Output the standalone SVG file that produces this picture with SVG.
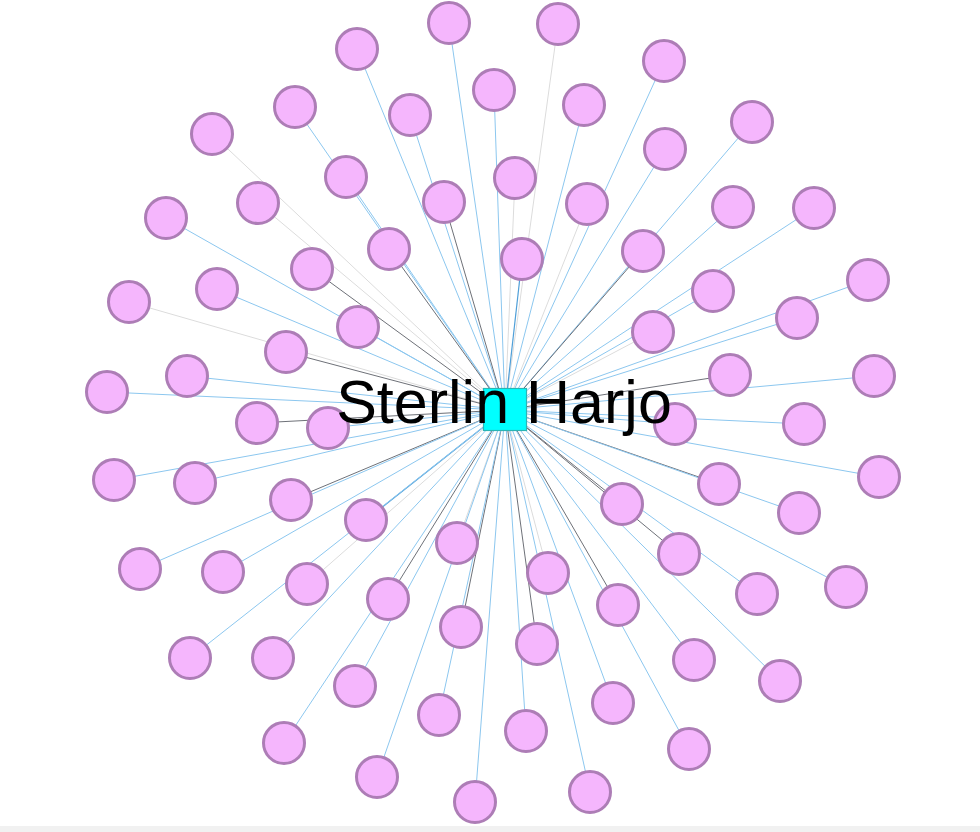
<svg xmlns="http://www.w3.org/2000/svg" width="980" height="832" viewBox="0 0 980 832">
<style>
.b{stroke:#8cc7ef;stroke-width:1}
.bb{stroke:#4f9fd8;stroke-width:1.2}
.d{stroke:#6e7178;stroke-width:1}
.g{stroke:#dcdcdc;stroke-width:1}
.n circle{fill:#f5b6fd;stroke:#ad7db6;stroke-width:3}
.lbl{font-family:"Liberation Sans",Arial,sans-serif;font-size:61px;fill:#000}
</style>
<rect width="980" height="832" fill="#ffffff"/>
<rect x="0" y="826" width="980" height="6" fill="#f1f1f1"/>
<g id="edges">
<line class="b" x1="505" y1="410" x2="449" y2="23"/>
<line class="g" x1="505" y1="410" x2="558" y2="24"/>
<line class="b" x1="505" y1="410" x2="357" y2="49"/>
<line class="b" x1="505" y1="410" x2="664" y2="61"/>
<line class="b" x1="505" y1="410" x2="494" y2="90"/>
<line class="b" x1="505" y1="410" x2="295" y2="107"/>
<line class="b" x1="505" y1="410" x2="410" y2="115"/>
<line class="b" x1="505" y1="410" x2="584" y2="105"/>
<line class="b" x1="505" y1="410" x2="752" y2="122"/>
<line class="g" x1="505" y1="410" x2="212" y2="134"/>
<line class="b" x1="505" y1="410" x2="665" y2="149"/>
<line class="b" x1="505" y1="410" x2="346" y2="177"/>
<line class="g" x1="505" y1="410" x2="515" y2="178"/>
<line class="g" x1="505" y1="410" x2="258" y2="203"/>
<line class="d" x1="505" y1="410" x2="444" y2="202"/>
<line class="g" x1="505" y1="410" x2="587" y2="204"/>
<line class="b" x1="505" y1="410" x2="733" y2="207"/>
<line class="b" x1="505" y1="410" x2="814" y2="208"/>
<line class="b" x1="505" y1="410" x2="166" y2="218"/>
<line class="d" x1="505" y1="410" x2="389" y2="249"/>
<line class="d" x1="505" y1="410" x2="643" y2="251"/>
<line class="bb" x1="505" y1="410" x2="522" y2="259"/>
<line class="d" x1="505" y1="410" x2="312" y2="269"/>
<line class="b" x1="505" y1="410" x2="868" y2="280"/>
<line class="b" x1="505" y1="410" x2="217" y2="289"/>
<line class="b" x1="505" y1="410" x2="713" y2="291"/>
<line class="g" x1="505" y1="410" x2="129" y2="302"/>
<line class="b" x1="505" y1="410" x2="797" y2="318"/>
<line class="b" x1="505" y1="410" x2="358" y2="327"/>
<line class="g" x1="505" y1="410" x2="653" y2="332"/>
<line class="d" x1="505" y1="410" x2="286" y2="352"/>
<line class="b" x1="505" y1="410" x2="187" y2="376"/>
<line class="d" x1="505" y1="410" x2="730" y2="375"/>
<line class="b" x1="505" y1="410" x2="874" y2="376"/>
<line class="b" x1="505" y1="410" x2="107" y2="392"/>
<line class="d" x1="505" y1="410" x2="257" y2="423"/>
<line class="b" x1="505" y1="410" x2="328" y2="428"/>
<line class="b" x1="505" y1="410" x2="675" y2="424"/>
<line class="b" x1="505" y1="410" x2="804" y2="424"/>
<line class="b" x1="505" y1="410" x2="114" y2="480"/>
<line class="b" x1="505" y1="410" x2="195" y2="483"/>
<line class="d" x1="505" y1="410" x2="719" y2="484"/>
<line class="b" x1="505" y1="410" x2="879" y2="477"/>
<line class="d" x1="505" y1="410" x2="291" y2="500"/>
<line class="bb" x1="505" y1="410" x2="366" y2="520"/>
<line class="d" x1="505" y1="410" x2="622" y2="504"/>
<line class="b" x1="505" y1="410" x2="799" y2="513"/>
<line class="g" x1="505" y1="410" x2="457" y2="543"/>
<line class="d" x1="505" y1="410" x2="679" y2="554"/>
<line class="b" x1="505" y1="410" x2="140" y2="569"/>
<line class="b" x1="505" y1="410" x2="223" y2="572"/>
<line class="g" x1="505" y1="410" x2="548" y2="573"/>
<line class="g" x1="505" y1="410" x2="307" y2="584"/>
<line class="b" x1="505" y1="410" x2="757" y2="594"/>
<line class="b" x1="505" y1="410" x2="846" y2="587"/>
<line class="d" x1="505" y1="410" x2="388" y2="599"/>
<line class="d" x1="505" y1="410" x2="618" y2="605"/>
<line class="d" x1="505" y1="410" x2="461" y2="627"/>
<line class="d" x1="505" y1="410" x2="537" y2="644"/>
<line class="b" x1="505" y1="410" x2="190" y2="658"/>
<line class="b" x1="505" y1="410" x2="273" y2="658"/>
<line class="b" x1="505" y1="410" x2="694" y2="660"/>
<line class="b" x1="505" y1="410" x2="780" y2="681"/>
<line class="b" x1="505" y1="410" x2="355" y2="686"/>
<line class="b" x1="505" y1="410" x2="613" y2="703"/>
<line class="b" x1="505" y1="410" x2="439" y2="715"/>
<line class="b" x1="505" y1="410" x2="526" y2="731"/>
<line class="b" x1="505" y1="410" x2="284" y2="743"/>
<line class="b" x1="505" y1="410" x2="689" y2="749"/>
<line class="b" x1="505" y1="410" x2="377" y2="777"/>
<line class="b" x1="505" y1="410" x2="590" y2="792"/>
<line class="b" x1="505" y1="410" x2="475" y2="802"/>
</g>
<g class="n">
<g id="n1"><circle cx="449" cy="23" r="20.5"/></g>
<g id="n2"><circle cx="558" cy="24" r="20.5"/></g>
<g id="n3"><circle cx="357" cy="49" r="20.5"/></g>
<g id="n4"><circle cx="664" cy="61" r="20.5"/></g>
<g id="n5"><circle cx="494" cy="90" r="20.5"/></g>
<g id="n6"><circle cx="295" cy="107" r="20.5"/></g>
<g id="n7"><circle cx="410" cy="115" r="20.5"/></g>
<g id="n8"><circle cx="584" cy="105" r="20.5"/></g>
<g id="n9"><circle cx="752" cy="122" r="20.5"/></g>
<g id="n10"><circle cx="212" cy="134" r="20.5"/></g>
<g id="n11"><circle cx="665" cy="149" r="20.5"/></g>
<g id="n12"><circle cx="346" cy="177" r="20.5"/></g>
<g id="n13"><circle cx="515" cy="178" r="20.5"/></g>
<g id="n14"><circle cx="258" cy="203" r="20.5"/></g>
<g id="n15"><circle cx="444" cy="202" r="20.5"/></g>
<g id="n16"><circle cx="587" cy="204" r="20.5"/></g>
<g id="n17"><circle cx="733" cy="207" r="20.5"/></g>
<g id="n18"><circle cx="814" cy="208" r="20.5"/></g>
<g id="n19"><circle cx="166" cy="218" r="20.5"/></g>
<g id="n20"><circle cx="389" cy="249" r="20.5"/></g>
<g id="n21"><circle cx="643" cy="251" r="20.5"/></g>
<g id="n22"><circle cx="522" cy="259" r="20.5"/></g>
<g id="n23"><circle cx="312" cy="269" r="20.5"/></g>
<g id="n24"><circle cx="868" cy="280" r="20.5"/></g>
<g id="n25"><circle cx="217" cy="289" r="20.5"/></g>
<g id="n26"><circle cx="713" cy="291" r="20.5"/></g>
<g id="n27"><circle cx="129" cy="302" r="20.5"/></g>
<g id="n28"><circle cx="797" cy="318" r="20.5"/></g>
<g id="n29"><circle cx="358" cy="327" r="20.5"/></g>
<g id="n30"><circle cx="653" cy="332" r="20.5"/></g>
<g id="n31"><circle cx="286" cy="352" r="20.5"/></g>
<g id="n32"><circle cx="187" cy="376" r="20.5"/></g>
<g id="n33"><circle cx="730" cy="375" r="20.5"/></g>
<g id="n34"><circle cx="874" cy="376" r="20.5"/></g>
<g id="n35"><circle cx="107" cy="392" r="20.5"/></g>
<g id="n36"><circle cx="257" cy="423" r="20.5"/></g>
<g id="n37"><circle cx="328" cy="428" r="20.5"/></g>
<g id="n38"><circle cx="675" cy="424" r="20.5"/></g>
<g id="n39"><circle cx="804" cy="424" r="20.5"/></g>
<g id="n40"><circle cx="114" cy="480" r="20.5"/></g>
<g id="n41"><circle cx="195" cy="483" r="20.5"/></g>
<g id="n42"><circle cx="719" cy="484" r="20.5"/></g>
<g id="n43"><circle cx="879" cy="477" r="20.5"/></g>
<g id="n44"><circle cx="291" cy="500" r="20.5"/></g>
<g id="n45"><circle cx="366" cy="520" r="20.5"/></g>
<g id="n46"><circle cx="622" cy="504" r="20.5"/></g>
<g id="n47"><circle cx="799" cy="513" r="20.5"/></g>
<g id="n48"><circle cx="457" cy="543" r="20.5"/></g>
<g id="n49"><circle cx="679" cy="554" r="20.5"/></g>
<g id="n50"><circle cx="140" cy="569" r="20.5"/></g>
<g id="n51"><circle cx="223" cy="572" r="20.5"/></g>
<g id="n52"><circle cx="548" cy="573" r="20.5"/></g>
<g id="n53"><circle cx="307" cy="584" r="20.5"/></g>
<g id="n54"><circle cx="757" cy="594" r="20.5"/></g>
<g id="n55"><circle cx="846" cy="587" r="20.5"/></g>
<g id="n56"><circle cx="388" cy="599" r="20.5"/></g>
<g id="n57"><circle cx="618" cy="605" r="20.5"/></g>
<g id="n58"><circle cx="461" cy="627" r="20.5"/></g>
<g id="n59"><circle cx="537" cy="644" r="20.5"/></g>
<g id="n60"><circle cx="190" cy="658" r="20.5"/></g>
<g id="n61"><circle cx="273" cy="658" r="20.5"/></g>
<g id="n62"><circle cx="694" cy="660" r="20.5"/></g>
<g id="n63"><circle cx="780" cy="681" r="20.5"/></g>
<g id="n64"><circle cx="355" cy="686" r="20.5"/></g>
<g id="n65"><circle cx="613" cy="703" r="20.5"/></g>
<g id="n66"><circle cx="439" cy="715" r="20.5"/></g>
<g id="n67"><circle cx="526" cy="731" r="20.5"/></g>
<g id="n68"><circle cx="284" cy="743" r="20.5"/></g>
<g id="n69"><circle cx="689" cy="749" r="20.5"/></g>
<g id="n70"><circle cx="377" cy="777" r="20.5"/></g>
<g id="n71"><circle cx="590" cy="792" r="20.5"/></g>
<g id="n72"><circle cx="475" cy="802" r="20.5"/></g>
</g>
<g id="center">
<rect x="483.5" y="388.5" width="43" height="42" fill="#00ffff" stroke="#2bb4b4" stroke-width="1.2"/>
<text class="lbl" x="504" y="423" text-anchor="middle">Sterlin Harjo</text>
</g>
</svg>
